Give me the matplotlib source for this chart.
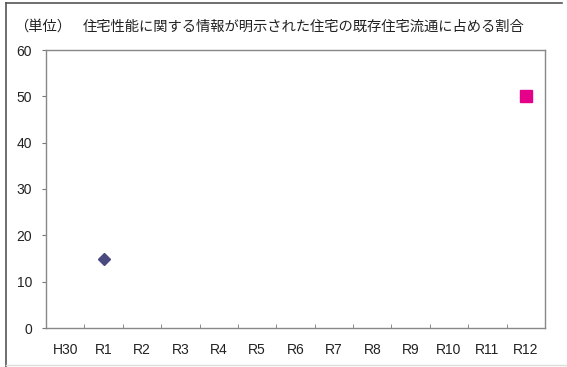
import numpy as np
import matplotlib.pyplot as plt

plt.rcParams['font.family'] = ['Noto Sans CJK JP', 'DejaVu Sans']

categories = ['H30', 'R1', 'R2', 'R3', 'R4', 'R5', 'R6', 'R7', 'R8', 'R9', 'R10', 'R11', 'R12']
actual = [np.nan, 15, np.nan, np.nan, np.nan, np.nan, np.nan, np.nan, np.nan, np.nan, np.nan, np.nan, np.nan]
target = [np.nan, np.nan, np.nan, np.nan, np.nan, np.nan, np.nan, np.nan, np.nan, np.nan, np.nan, np.nan, 50]
yticks = [0, 10, 20, 30, 40, 50, 60]

fig = plt.figure(figsize=(5.67, 3.67), dpi=100)
ax = fig.add_axes([46 / 567, 1 - 328 / 367, (545 - 46) / 567, (328 - 50) / 367])

x = np.arange(len(categories))
ax.plot(x, actual, linestyle='none', marker='D', markersize=6.5, color='#4b4a80')
ax.plot(x, target, linestyle='none', marker='s', markersize=9, color='#e5008a')

ax.set_xlim(-0.5, len(categories) - 0.5)
ax.set_ylim(0, 60)
ax.set_yticks(yticks)
ax.set_xticks(x)
ax.set_xticklabels(categories, family=['Liberation Sans', 'DejaVu Sans'])
ax.set_yticklabels([str(v) for v in yticks], family=['Liberation Sans', 'DejaVu Sans'])
ax.set_xticks(np.arange(len(categories) + 1) - 0.5, minor=True)
ax.tick_params(axis='x', which='major', length=0, pad=11, labelsize=10, colors='#222222')
ax.tick_params(axis='x', which='minor', length=3, direction='in', color='#777777')
ax.tick_params(axis='y', length=3, direction='out', labelsize=10, pad=7, colors='#222222')
ax.tick_params(axis='y', color='#777777')
for s in ax.spines.values():
    s.set_color('#888888')
    s.set_linewidth(1)

fig.text(14 / 567, 1 - 27 / 367, '（単位）', fontsize=10.3, va='center', color='#222222')
fig.text(83 / 567, 1 - 27 / 367, '住宅性能に関する情報が明示された住宅の既存住宅流通に占める割合',
         fontsize=10.3, va='center', color='#222222')

# outer frame
fig.add_artist(plt.Line2D([6 / 567, 6 / 567], [0, 1 - 3 / 367], transform=fig.transFigure, color='#555555', lw=1.2))
fig.add_artist(plt.Line2D([6 / 567, 562 / 567], [1 - 3 / 367, 1 - 3 / 367], transform=fig.transFigure, color='#555555', lw=1.2))
fig.add_artist(plt.Line2D([6 / 567, 1], [1 - 365 / 367, 1 - 365 / 367], transform=fig.transFigure, color='#dddddd', lw=1))

fig.savefig('out.png', dpi=100)
